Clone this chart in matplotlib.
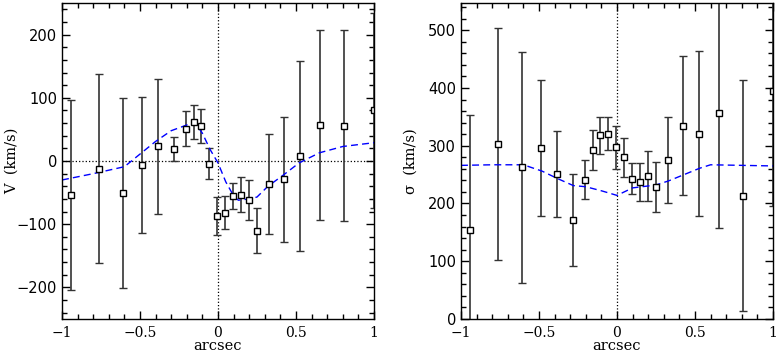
import matplotlib
matplotlib.use('Agg')
import matplotlib.pyplot as plt
from matplotlib.ticker import MultipleLocator

# slit positions (arcsec), shared by both panels
xPos = [-0.94, -0.765, -0.612, -0.49, -0.385, -0.284, -0.206, -0.156, -0.107, -0.055, -0.005,
        0.047, 0.097, 0.148, 0.199, 0.25, 0.324, 0.426, 0.527, 0.652, 0.806, 1.0]

# rotation velocity
vel = [-54, -12, -51, -6, 23, 19, 51, 62, 55, -4, -87,
       -82, -55, -53, -62, -110, -36, -29, 8, 57, 56, 80]
velErr = [150, 150, 150, 108, 107, 19, 28, 27, 27, 24, 30,
          26, 21, 27, 32, 36, 79, 99, 151, 151, 151, 155]

# velocity dispersion
sig = [154, 303, 263, 296, 251, 171, 241, 293, 318, 321, 297,
       280, 243, 237, 247, 229, 275, 335, 321, 357, 213, 395]
sigErr = [200, 200, 200, 117, 75, 80, 34, 35, 32, 28, 38,
          34, 27, 33, 43, 43, 75, 121, 143, 200, 200, 200]

# model curves
modX = [-1.0, -0.8, -0.6, -0.5, -0.4, -0.3, -0.2, -0.15, -0.1, -0.05, 0.0,
        0.05, 0.1, 0.13, 0.2, 0.25, 0.32, 0.42, 0.52, 0.65, 0.8, 1.0]
modV = [-30, -20, -9, 11, 31, 48, 57, 62, 44, 18, -3,
        -33, -55, -62, -60, -57, -40, -22, -3, 13, 23, 29]
modSX = [-1.0, -0.8, -0.6, -0.48, -0.38, -0.28, -0.2, -0.1, 0.0, 0.1, 0.25, 0.33, 0.43, 0.53, 0.6, 0.8, 1.0]
modS = [266, 267, 267, 256, 243, 231, 229, 222, 214, 227, 232, 239, 250, 261, 267, 266, 265]

serif = 'DejaVu Serif'


def styleAxes(ax, ymajor, yminor):
    ax.set_xlim(-1, 1)
    ax.xaxis.set_major_locator(MultipleLocator(0.5))
    ax.xaxis.set_minor_locator(MultipleLocator(0.1))
    ax.yaxis.set_major_locator(MultipleLocator(ymajor))
    ax.yaxis.set_minor_locator(MultipleLocator(yminor))
    ax.tick_params(which='both', direction='in', top=True, right=True, width=1)
    ax.tick_params(which='major', length=6, labelsize=10.5)
    ax.tick_params(which='minor', length=3.5)
    ax.tick_params(axis='x', pad=5)
    ax.set_xticks([-1, -0.5, 0, 0.5, 1])
    ax.set_xticklabels(['\u22121', '\u22120.5', '0', '0.5', '1'], family=serif, fontsize=10)
    ax.set_xlabel('arcsec', family=serif, fontsize=10.5, labelpad=-1)
    for s in ax.spines.values():
        s.set_linewidth(1)


fig = plt.figure(figsize=(7.77, 3.55), dpi=100)
ax1 = fig.add_axes([0.0798, 0.1014, 0.4015, 0.890])
ax2 = fig.add_axes([0.5933, 0.1014, 0.4015, 0.890])

# left: velocity
ax1.axhline(0, color='black', ls=':', lw=0.9)
ax1.axvline(0, color='black', ls=':', lw=0.9)
ax1.errorbar(xPos, vel, yerr=velErr, fmt='s', mfc='white', mec='black', ms=5, mew=1,
             ecolor='#333333', elinewidth=1.2, capsize=3, capthick=1.2)
ax1.plot(modX, modV, color='blue', ls=(0, (5, 3)), lw=1)
ax1.set_ylim(-250, 250)
styleAxes(ax1, 100, 20)
ax1.set_yticks([-200, -100, 0, 100, 200])
ax1.set_yticklabels(['\u2212200', '\u2212100', '0', '100', '200'])
ax1.set_ylabel('V  (km/s)', family=serif, fontsize=10.5)
ax1.yaxis.set_label_coords(-0.14, 0.5)

# right: dispersion
ax2.axvline(0, color='black', ls=':', lw=0.9)
ax2.errorbar(xPos, sig, yerr=sigErr, fmt='s', mfc='white', mec='black', ms=5, mew=1,
             ecolor='#333333', elinewidth=1.2, capsize=3, capthick=1.2)
ax2.plot(modSX, modS, color='blue', ls=(0, (5, 3)), lw=1)
ax2.set_ylim(0, 547)
styleAxes(ax2, 100, 20)
ax2.set_ylabel('\u03c3  (km/s)', family=serif, fontsize=10.5)
ax2.yaxis.set_label_coords(-0.14, 0.5)

plt.savefig('out.png', dpi=100)
